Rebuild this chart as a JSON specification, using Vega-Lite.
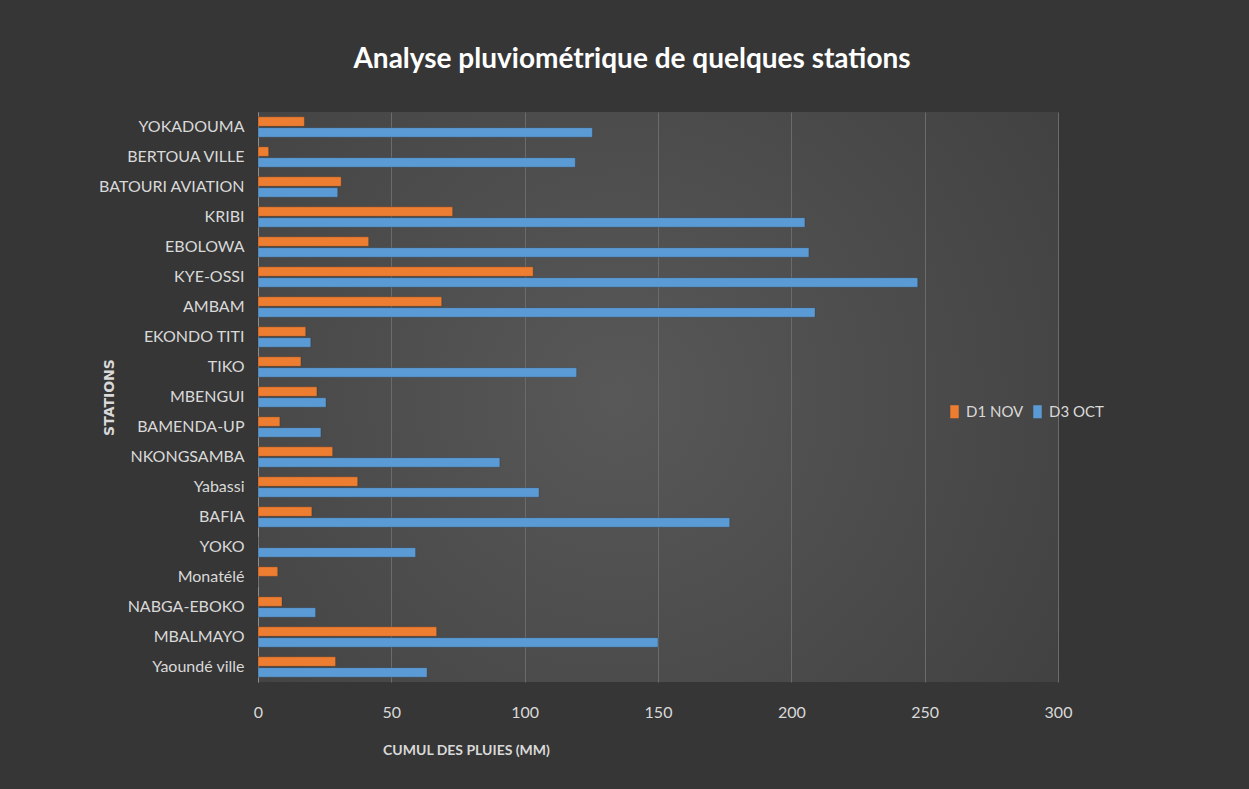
{
  "$schema": "https://vega.github.io/schema/vega-lite/v6.json",
  "width": 800,
  "height": 570,
  "autosize": {"type": "none"},
  "padding": {"left": 258, "top": 112, "right": 191, "bottom": 107},
  "background": "#363636",
  "title": {
    "text": "Analyse  pluviométrique  de quelques stations",
    "color": "#ffffff",
    "font": "Lato",
    "fontSize": 28,
    "fontWeight": "bold",
    "letterSpacing": 1.2,
    "anchor": "middle",
    "dx": -26,
    "offset": 38
  },
  "config": {
    "view": {
      "stroke": null,
      "fill": {
        "gradient": "radial",
        "x1": 0.45, "y1": 0.5, "r1": 0,
        "x2": 0.45, "y2": 0.5, "r2": 0.75,
        "stops": [
          {"offset": 0, "color": "#585858"},
          {"offset": 1, "color": "#3e3e3e"}
        ]
      }
    },
    "axis": {
      "labelFont": "Lato",
      "titleFont": "Lato",
      "labelColor": "#d9d9d9",
      "titleColor": "#d9d9d9"
    }
  },
  "data": {
    "values": [
      {"station": "YOKADOUMA", "serie": "D1 NOV", "value": 17.4},
      {"station": "YOKADOUMA", "serie": "D3 OCT", "value": 125.4},
      {"station": "BERTOUA VILLE", "serie": "D1 NOV", "value": 4.0},
      {"station": "BERTOUA VILLE", "serie": "D3 OCT", "value": 119.0},
      {"station": "BATOURI AVIATION", "serie": "D1 NOV", "value": 31.2},
      {"station": "BATOURI AVIATION", "serie": "D3 OCT", "value": 29.9},
      {"station": "KRIBI", "serie": "D1 NOV", "value": 73.0},
      {"station": "KRIBI", "serie": "D3 OCT", "value": 205.1},
      {"station": "EBOLOWA", "serie": "D1 NOV", "value": 41.5},
      {"station": "EBOLOWA", "serie": "D3 OCT", "value": 206.6},
      {"station": "KYE-OSSI", "serie": "D1 NOV", "value": 103.2},
      {"station": "KYE-OSSI", "serie": "D3 OCT", "value": 247.4},
      {"station": "AMBAM", "serie": "D1 NOV", "value": 68.9},
      {"station": "AMBAM", "serie": "D3 OCT", "value": 208.9},
      {"station": "EKONDO TITI", "serie": "D1 NOV", "value": 17.9},
      {"station": "EKONDO TITI", "serie": "D3 OCT", "value": 19.8},
      {"station": "TIKO", "serie": "D1 NOV", "value": 16.1},
      {"station": "TIKO", "serie": "D3 OCT", "value": 119.5},
      {"station": "MBENGUI", "serie": "D1 NOV", "value": 22.1},
      {"station": "MBENGUI", "serie": "D3 OCT", "value": 25.5},
      {"station": "BAMENDA-UP", "serie": "D1 NOV", "value": 8.2},
      {"station": "BAMENDA-UP", "serie": "D3 OCT", "value": 23.6},
      {"station": "NKONGSAMBA", "serie": "D1 NOV", "value": 28.0},
      {"station": "NKONGSAMBA", "serie": "D3 OCT", "value": 90.7},
      {"station": "Yabassi", "serie": "D1 NOV", "value": 37.4},
      {"station": "Yabassi", "serie": "D3 OCT", "value": 105.4},
      {"station": "BAFIA", "serie": "D1 NOV", "value": 20.2},
      {"station": "BAFIA", "serie": "D3 OCT", "value": 176.9},
      {"station": "YOKO", "serie": "D1 NOV", "value": 0},
      {"station": "YOKO", "serie": "D3 OCT", "value": 59.1},
      {"station": "Monatélé", "serie": "D1 NOV", "value": 7.4},
      {"station": "Monatélé", "serie": "D3 OCT", "value": 0},
      {"station": "NABGA-EBOKO", "serie": "D1 NOV", "value": 9.0},
      {"station": "NABGA-EBOKO", "serie": "D3 OCT", "value": 21.6},
      {"station": "MBALMAYO", "serie": "D1 NOV", "value": 67.0},
      {"station": "MBALMAYO", "serie": "D3 OCT", "value": 150.0},
      {"station": "Yaoundé ville", "serie": "D1 NOV", "value": 29.1},
      {"station": "Yaoundé ville", "serie": "D3 OCT", "value": 63.4}
    ]
  },
  "mark": {"type": "bar", "stroke": "#2a2a2a", "strokeOpacity": 0.3, "strokeWidth": 1},
  "encoding": {
    "y": {
      "field": "station",
      "type": "nominal",
      "sort": null,
      "scale": {"paddingInner": 0.32, "paddingOuter": 0.16},
      "axis": {
        "title": "STATIONS",
        "titleFont": "DejaVu Sans",
        "titleFontSize": 14,
        "titleFontWeight": "bold",
        "titleLetterSpacing": 2,
        "titleX": -142,
        "titleColor": "#d9d9d9",
        "labelFontSize": 16,
        "labelPadding": 14,
        "ticks": false,
        "domain": true,
        "domainColor": "#8c8c8c",
        "domainWidth": 1,
        "grid": false
      }
    },
    "yOffset": {
      "field": "serie",
      "type": "nominal",
      "sort": ["D1 NOV", "D3 OCT"],
      "scale": {"paddingInner": 0.12, "paddingOuter": 0}
    },
    "x": {
      "field": "value",
      "type": "quantitative",
      "scale": {"domain": [0, 300], "nice": false},
      "axis": {
        "title": "CUMUL DES PLUIES (MM)",
        "titleFontSize": 14,
        "titleFontWeight": "bold",
        "titleX": 208,
        "titleY": 72,
        "titleBaseline": "alphabetic",
        "values": [0, 50, 100, 150, 200, 250, 300],
        "labelFontSize": 16,
        "labelPadding": 22,
        "labelFlush": false,
        "ticks": false,
        "domain": false,
        "grid": true,
        "gridColor": "#6b6b6b",
        "gridWidth": 1
      }
    },
    "color": {
      "field": "serie",
      "type": "nominal",
      "scale": {"domain": ["D1 NOV", "D3 OCT"], "range": ["#ED7D31", "#5B9BD5"]},
      "legend": {
        "title": null,
        "orient": "none",
        "legendX": 689,
        "legendY": 292,
        "direction": "horizontal",
        "labelColor": "#d9d9d9",
        "labelFont": "Lato",
        "labelFontSize": 15,
        "labelOffset": 4,
        "columnPadding": 6,
        "symbolType": "M-0.65,-1L0.65,-1L0.65,1L-0.65,1Z",
        "symbolSize": 170,
        "symbolStrokeWidth": 0
      }
    }
  }
}
